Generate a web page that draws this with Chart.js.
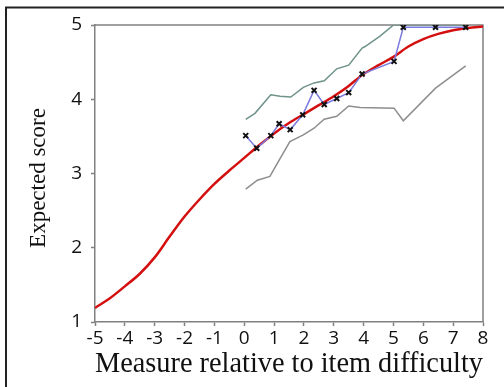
<!DOCTYPE html>
<html>
<head>
<meta charset="utf-8">
<script src="https://cdn.jsdelivr.net/npm/chart.js@4.4.0/dist/chart.umd.min.js"></script>
<style>
  html, body { margin: 0; padding: 0; background: #fff; }
  #wrap { width: 504px; height: 387px; }
</style>
</head>
<body>
<div id="wrap"><canvas id="icc-chart" width="504" height="387"></canvas></div>
<script>
// Expected score curve (model) and observed item scores
var modelX = [-5, -4.5, -4, -3.5, -3, -2.5, -2, -1.5, -1, -0.5, 0, 0.5, 1, 1.5, 2, 2.5, 3, 3.5, 4, 4.5, 5, 5.5, 6, 6.5, 7, 7.5, 8];
var modelY = [1.19, 1.32, 1.48, 1.65, 1.87, 2.15, 2.42, 2.65, 2.86, 3.04, 3.21, 3.38, 3.54, 3.68, 3.80, 3.92, 4.04, 4.18, 4.34, 4.46, 4.57, 4.71, 4.81, 4.88, 4.93, 4.96, 4.98];

var observedX = [0.05, 0.42, 0.89, 1.17, 1.54, 1.96, 2.34, 2.68, 3.10, 3.50, 3.95, 5.02, 5.33, 6.41, 7.42];
var observedY = [3.51, 3.34, 3.51, 3.67, 3.59, 3.79, 4.12, 3.93, 4.01, 4.09, 4.34, 4.51, 4.97, 4.97, 4.97];

var upperX = [0.05, 0.36, 0.89, 1.20, 1.56, 1.98, 2.34, 2.68, 3.10, 3.50, 3.95, 4.05, 4.55, 5.00, 5.33, 6.41, 7.42];
var upperY = [3.73, 3.81, 4.06, 4.04, 4.03, 4.16, 4.22, 4.25, 4.41, 4.46, 4.69, 4.71, 4.85, 5.00, 5.00, 5.00, 5.00];

var lowerX = [0.05, 0.44, 0.86, 1.20, 1.53, 1.98, 2.34, 2.68, 3.10, 3.50, 3.88, 5.02, 5.33, 6.41, 7.42];
var lowerY = [2.79, 2.91, 2.96, 3.20, 3.43, 3.52, 3.61, 3.73, 3.77, 3.91, 3.89, 3.88, 3.71, 4.15, 4.45];

var xTicks = [-5, -4, -3, -2, -1, 0, 1, 2, 3, 4, 5, 6, 7, 8];
var yTicks = [1, 2, 3, 4, 5];

var yTitle = 'Expected score';

function toPoints(xs, ys) {
    var pts = [];
    for (var i = 0; i < xs.length; i++) {
        pts.push({x: xs[i], y: ys[i]});
    }
    return pts;
}

// frame round the picture, the plot box and the y title
var framePlugin = {
    id: 'frame',
    beforeDraw: function(chart) {
        var c = chart.ctx;
        c.save();
        c.fillStyle = '#fff';
        c.fillRect(0, 0, chart.width, chart.height);
        c.strokeStyle = '#222';
        c.lineWidth = 2;
        c.beginPath();
        c.moveTo(6, chart.height);
        c.lineTo(6, 7.5);
        c.lineTo(chart.width, 7.5);
        c.stroke();
        c.restore();
    },
    beforeDatasetsDraw: function(chart) {
        var a = chart.chartArea;
        var c = chart.ctx;
        c.save();
        c.strokeStyle = '#808080';
        c.lineWidth = 1.5;
        c.beginPath();
        c.moveTo(a.left, a.top);
        c.lineTo(a.right, a.top);
        c.lineTo(a.right, a.bottom);
        c.stroke();
        c.restore();
    },
    afterDraw: function(chart) {
        var c = chart.ctx;
        c.save();
        c.translate(39, 178);
        c.rotate(-Math.PI / 2);
        c.fillStyle = '#111';
        c.font = '23px "Liberation Serif"';
        c.textAlign = 'center';
        c.textBaseline = 'middle';
        c.fillText(yTitle, 0, 0);
        c.restore();
    }
};

var ctx = document.getElementById('icc-chart');

var chartData = {
    datasets: [{
        label: 'Lower',
        data: toPoints(lowerX, lowerY),
        showLine: true,
        borderColor: '#8e8e8e',
        borderWidth: 1.5,
        pointRadius: 0,
        order: 4
    }, {
        label: 'Upper',
        data: toPoints(upperX, upperY),
        showLine: true,
        borderColor: '#6f928b',
        borderWidth: 1.5,
        pointRadius: 0,
        order: 3
    }, {
        label: 'Expected',
        data: toPoints(modelX, modelY),
        showLine: true,
        borderColor: '#d40f0f',
        borderWidth: 2.5,
        pointRadius: 0,
        cubicInterpolationMode: 'monotone',
        order: 2
    }, {
        label: 'Observed',
        data: toPoints(observedX, observedY),
        showLine: true,
        borderColor: '#7b7be0',
        borderWidth: 1.5,
        pointStyle: 'crossRot',
        pointRadius: 3.5,
        pointBorderColor: '#111',
        pointBorderWidth: 2,
        order: 1
    }]
};

var config = {
    type: 'scatter',
    data: chartData,
    plugins: [framePlugin],
    options: {
        responsive: false,
        animation: false,
        layout: { padding: { left: 0, top: 25, right: 21, bottom: 0 } },
        plugins: {
            legend: { display: false },
            tooltip: { enabled: false }
        },
        scales: {
            x: {
                type: 'linear',
                min: -5,
                max: 8,
                afterFit: function(scale) { scale.height = 65; },
                afterBuildTicks: function(scale) {
                    scale.ticks = xTicks.map(function(v) { return {value: v}; });
                },
                ticks: {
                    color: '#111',
                    padding: 1,
                    maxRotation: 0,
                    autoSkip: false,
                    font: { family: 'Open Sans', size: 19 }
                },
                grid: { drawOnChartArea: false, color: '#808080', tickLength: 4, tickWidth: 1.5 },
                border: { color: '#808080', width: 1.5 },
                title: {
                    display: true,
                    text: 'Measure relative to item difficulty',
                    color: '#111',
                    font: { family: 'Liberation Serif', size: 30, lineHeight: 1.2 },
                    padding: { top: 0, bottom: 5 }
                }
            },
            y: {
                type: 'linear',
                min: 1,
                max: 5,
                afterFit: function(scale) { scale.width = 95; },
                afterBuildTicks: function(scale) {
                    scale.ticks = yTicks.map(function(v) { return {value: v}; });
                },
                ticks: {
                    color: '#111',
                    padding: 9,
                    font: { family: 'Open Sans', size: 19 }
                },
                grid: { drawOnChartArea: false, color: '#808080', tickLength: 4, tickWidth: 1.5 },
                border: { color: '#808080', width: 1.5 },
                title: { display: false }
            }
        }
    }
};

var iccChart = new Chart(ctx, config);
</script>
</body>
</html>
